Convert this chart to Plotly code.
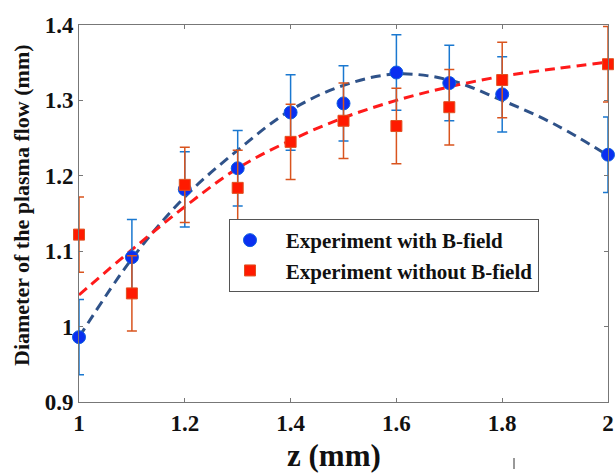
import plotly.graph_objects as go

z = [1.0, 1.1, 1.2, 1.3, 1.4, 1.5, 1.6, 1.7, 1.8, 2.0]
with_b = [0.986, 1.092, 1.182, 1.210, 1.284, 1.296, 1.337, 1.323, 1.308, 1.228]
with_b_err = [0.05] * 10
without_b = [1.122, 1.044, 1.188, 1.184, 1.245, 1.273, 1.266, 1.291, 1.327, 1.348]
without_b_err = [0.05] * 10

fit_z = [1.0, 1.1, 1.2, 1.3, 1.4, 1.5, 1.6, 1.7, 1.8, 1.9, 2.0]
fit_with = [0.986, 1.090, 1.172, 1.234, 1.287, 1.320, 1.335, 1.327, 1.300, 1.268, 1.227]
fit_without = [1.042, 1.102, 1.159, 1.210, 1.247, 1.277, 1.300, 1.318, 1.332, 1.342, 1.351]

xticks = [1, 1.2, 1.4, 1.6, 1.8, 2]
yticks = [0.9, 1.0, 1.1, 1.2, 1.3, 1.4]
xticklabels = ["1", "1.2", "1.4", "1.6", "1.8", "2"]
yticklabels = ["0.9", "1", "1.1", "1.2", "1.3", "1.4"]
x_title = "z (mm)"
y_title = "Diameter of the plasma flow (mm)"

font = "Liberation Serif, Times New Roman, serif"
nb = "\u00a0\u00a0\u00a0"

OFF = 0  # body margin removed in post_script
W, H = 616, 476
L, T = 79, 25
R = W - 608
B = H - 402
pw, ph = W - L - R, H - T - B


def sx(px):
    return (px - OFF - L) / pw


def sy(py):
    return (H - B - (py - OFF)) / ph


fig = go.Figure()
fig.add_trace(go.Scatter(
    x=fit_z, y=fit_with, mode="lines", line=dict(color="#2f5289", width=3, dash="10px,6px", shape="spline"),
    showlegend=False, hoverinfo="skip"))
fig.add_trace(go.Scatter(
    x=fit_z, y=fit_without, mode="lines", line=dict(color="#ff1a1a", width=3, dash="10px,6px", shape="spline"),
    showlegend=False, hoverinfo="skip"))
fig.add_trace(go.Scatter(
    x=z, y=with_b, mode="markers", name=nb + "Experiment with B-field", cliponaxis=False,
    marker=dict(symbol="circle", size=13, color="#0a2ff0", line=dict(color="#1060e0", width=1)),
    error_y=dict(type="data", array=with_b_err, color="#1a78d0", thickness=1.5, width=5)))
fig.add_trace(go.Scatter(
    x=z, y=without_b, mode="markers", name=nb + "Experiment without B-field", cliponaxis=False,
    marker=dict(symbol="square", size=11, color="#ff1a00", line=dict(color="#e05020", width=1)),
    error_y=dict(type="data", array=without_b_err, color="#d9541e", thickness=1.5, width=5)))

axis_common = dict(showline=True, linecolor="#777777", linewidth=1, mirror="ticks", automargin=False,
                   ticks="inside", ticklen=4, tickcolor="#777777", showgrid=False, zeroline=False,
                   tickfont=dict(family=font, size=23, color="#111111", weight="bold"))

fig.update_layout(
    width=W, height=H,
    margin=dict(l=L, r=R, t=T, b=B),
    paper_bgcolor="white", plot_bgcolor="white",
    xaxis=dict(range=[1, 2], tickvals=xticks, ticktext=xticklabels, **axis_common),
    yaxis=dict(range=[0.9, 1.4], tickvals=yticks, ticktext=yticklabels, **axis_common),
    legend=dict(x=sx(229), y=sy(219), xanchor="left", yanchor="top",
                bgcolor="white", bordercolor="#555555", borderwidth=1,
                font=dict(family=font, size=21, color="#111111", weight="bold"),
                itemwidth=30, tracegroupgap=0),
    font=dict(family=font),
)
fig.add_annotation(text=x_title, xref="paper", yref="paper", x=sx(334), y=sy(455),
                   xanchor="center", yanchor="middle", showarrow=False,
                   font=dict(family=font, size=31, color="#111111", weight="bold"))
fig.add_annotation(text=y_title, xref="paper", yref="paper", x=sx(21), y=sy(205),
                   xanchor="center", yanchor="middle", showarrow=False, textangle=-90,
                   font=dict(family=font, size=22, color="#111111", weight="bold"))
fig.add_shape(type="line", xref="paper", yref="paper", x0=sx(514), x1=sx(514),
              y0=sy(458), y1=sy(469), line=dict(color="#333333", width=1))

fig.write_html("out.html", config={"displayModeBar": False},
               post_script="document.body.style.margin='0';document.body.style.overflow='hidden';")
